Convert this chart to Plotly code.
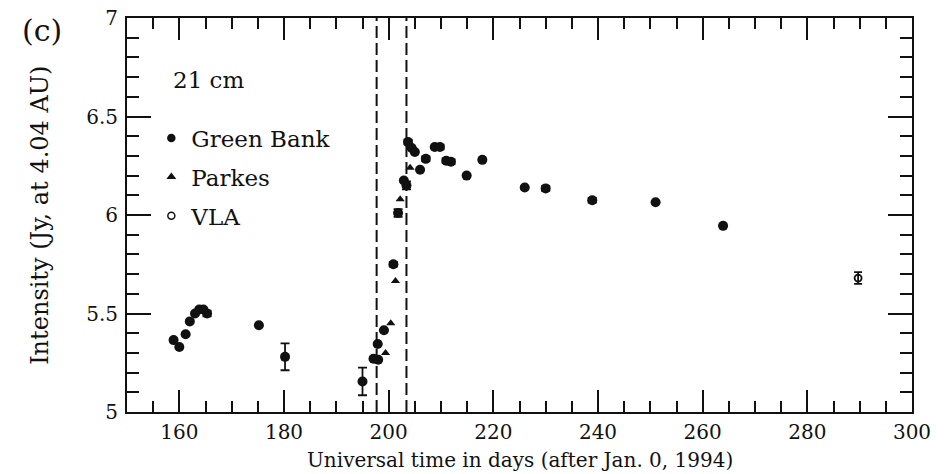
import plotly.graph_objects as go

# 21 cm flux density, normalised to 4.04 AU
gb_day = [158.9, 160.0, 161.2, 162.0, 163.0, 163.8, 164.6, 165.3, 175.2, 180.2,
          195.0, 197.1, 198.0, 197.9, 199.1, 200.9, 201.8, 202.9, 203.4, 203.7,
          204.4, 205.0, 206.0, 207.1, 208.8, 209.8, 211.0, 211.9, 214.9, 217.9,
          226.0, 230.0, 238.9, 251.0, 263.9]
gb_int = [5.365, 5.33, 5.395, 5.46, 5.50, 5.52, 5.52, 5.50, 5.44, 5.28,
          5.155, 5.27, 5.265, 5.345, 5.415, 5.75, 6.01, 6.175, 6.15, 6.37,
          6.34, 6.32, 6.23, 6.285, 6.345, 6.345, 6.275, 6.27, 6.20, 6.28,
          6.14, 6.135, 6.075, 6.065, 5.945]
gb_err = [None, None, None, None, None, None, None, 0.015, None, 0.068,
          0.07, None, None, None, None, 0.012, 0.02, None, 0.02, 0.012,
          None, None, None, 0.012, None, 0.012, 0.012, 0.012, None, None,
          None, 0.012, 0.012, None, None]

pk_day = [199.4, 200.4, 201.3, 202.2, 204.1]
pk_int = [5.30, 5.45, 5.665, 6.08, 6.24]

vla_day = [289.7]
vla_int = [5.68]
vla_err = [0.03]

# epochs bracketing the impacts
event_days = [197.7, 203.4]

x_range = [150, 300]
y_range = [5, 7]

FONT = "DejaVu Serif"
INK = "#111111"
FS = 23

fig = go.Figure()

for d in event_days:
    fig.add_trace(go.Scatter(
        x=[d, d], y=y_range, mode="lines",
        line=dict(color=INK, width=2, dash="12px,5px"),
        showlegend=False, hoverinfo="skip"))

fig.add_trace(go.Scatter(
    x=gb_day, y=gb_int, mode="markers",
    marker=dict(symbol="circle", size=10, color=INK),
    error_y=dict(type="data", array=gb_err, visible=True,
                 color=INK, thickness=1.8, width=4.5),
    showlegend=False))

fig.add_trace(go.Scatter(
    x=pk_day, y=pk_int, mode="markers",
    marker=dict(symbol="triangle-up", size=8, color=INK),
    showlegend=False))

fig.add_trace(go.Scatter(
    x=vla_day, y=vla_int, mode="markers",
    marker=dict(symbol="circle-open", size=7, color=INK, line=dict(width=1.8)),
    error_y=dict(type="data", array=vla_err, visible=True,
                 color=INK, thickness=1.8, width=4),
    showlegend=False))

# legend entries with smaller symbols
for name, sym, sz in [("Green Bank", "circle", 7),
                      ("Parkes", "triangle-up", 6),
                      ("VLA", "circle-open", 7)]:
    fig.add_trace(go.Scatter(
        x=[None], y=[None], mode="markers", name=name, legendgroup=name,
        marker=dict(symbol=sym, size=sz, color=INK, line=dict(width=1.5, color=INK))))

axis_common = dict(
    showline=True, linecolor=INK, linewidth=2, mirror="allticks",
    ticks="inside", tickcolor=INK, tickwidth=2,
    showgrid=False, zeroline=False, automargin=False,
    tickfont=dict(family=FONT, size=20, color=INK),
)

fig.update_xaxes(
    range=x_range, tick0=160, dtick=20, ticklen=22,
    minor=dict(ticks="inside", dtick=5, ticklen=11, tickcolor=INK, tickwidth=2),
    ticklabelstandoff=1,
    **axis_common)
fig.update_yaxes(
    range=y_range, tick0=5, dtick=0.5, ticklen=24,
    minor=dict(ticks="inside", dtick=0.1, ticklen=12, tickcolor=INK, tickwidth=2),
    ticklabelstandoff=3,
    **axis_common)

# axis titles and panel labels
fig.add_annotation(text="Universal time in days (after Jan. 0, 1994)",
                   xref="paper", yref="paper", x=0.5, y=-0.122,
                   xanchor="center", yanchor="middle", showarrow=False,
                   font=dict(family=FONT, size=20, color=INK))
fig.add_annotation(text="Intensity (Jy, at 4.04 AU)", textangle=-90,
                   xref="paper", yref="paper", x=-0.111, y=0.5,
                   xanchor="center", yanchor="middle", showarrow=False,
                   font=dict(family=FONT, size=FS + 1, color=INK))
fig.add_annotation(text="(c)", xref="paper", yref="paper", x=-0.108, y=0.9695,
                   xanchor="center", yanchor="middle", showarrow=False,
                   font=dict(family=FONT, size=30, color=INK))
fig.add_annotation(text="21 cm", xref="paper", yref="paper", x=0.056, y=0.8426,
                   xanchor="left", yanchor="middle", showarrow=False,
                   font=dict(family=FONT, size=FS, color=INK))

fig.update_layout(
    width=952, height=474,
    margin=dict(l=127, r=40, t=18, b=62),
    paper_bgcolor="white", plot_bgcolor="white",
    font=dict(family=FONT, color=INK),
    legend=dict(x=0.031, y=0.75, xanchor="left", yanchor="top",
                bgcolor="rgba(0,0,0,0)", itemwidth=30, tracegroupgap=6,
                font=dict(family=FONT, size=FS, color=INK)),
)

fig.write_html("out.html")
